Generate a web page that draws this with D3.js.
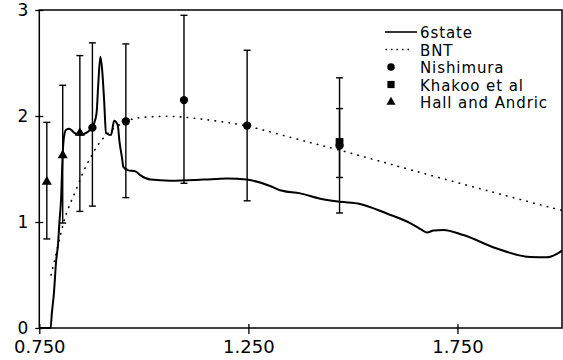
<!DOCTYPE html>
<html>
<head>
<meta charset="utf-8">
<script src="https://cdn.jsdelivr.net/npm/d3@7"></script>
<style>
  body { margin: 0; background: #fff; }
  svg { display: block; }
  text { font-family: "DejaVu Sans", sans-serif; fill: #000; }
</style>
</head>
<body>
<script>
// canvas
var width = 563, height = 360;
var margin = {top: 10, right: 1, bottom: 32, left: 39.3};

// 6state curve (energy, value)
var sixX = [0.750, 0.777, 0.780, 0.785, 0.790, 0.795, 0.798, 0.802, 0.806, 0.809, 0.814, 0.822,
            0.834, 0.846, 0.862, 0.874, 0.880, 0.887, 0.891, 0.896, 0.900, 0.905, 0.9096, 0.9215,
            0.929, 0.9376, 0.9414, 0.948, 0.951, 0.9615, 0.981, 0.992, 1.016, 1.063, 1.142, 1.198,
            1.246, 1.302, 1.326, 1.374, 1.422, 1.469, 1.517, 1.581, 1.637, 1.665, 1.677, 1.693,
            1.716, 1.764, 1.844, 1.924, 1.964, 1.988, 2.000];
var sixY = [0.00, 0.00, 0.14, 0.33, 0.62, 0.80, 0.99, 1.21, 1.65, 1.80, 1.87, 1.88,
            1.84, 1.82, 1.84, 1.88, 1.92, 2.03, 2.30, 2.56, 2.45, 2.15, 1.84, 1.82,
            1.955, 1.915, 1.77, 1.60, 1.52, 1.49, 1.475, 1.44, 1.40, 1.39, 1.40, 1.41,
            1.40, 1.34, 1.30, 1.27, 1.22, 1.19, 1.17, 1.08, 0.99, 0.925, 0.90, 0.92,
            0.925, 0.877, 0.75, 0.67, 0.667, 0.70, 0.73];

// BNT curve
var bntX = [0.778, 0.786, 0.802, 0.810, 0.822, 0.838, 0.854, 0.871, 0.887, 0.898, 0.914, 0.933,
            0.957, 0.983, 1.063, 1.094, 1.142, 1.198, 1.246, 1.302, 1.406, 1.469, 1.693, 1.988, 2.000];
var bntY = [0.50, 0.63, 0.90, 1.03, 1.16, 1.30, 1.47, 1.60, 1.71, 1.77, 1.84, 1.90,
            1.95, 1.99, 2.00, 1.99, 1.97, 1.94, 1.91, 1.85, 1.74, 1.68, 1.43, 1.12, 1.11];

// Nishimura
var nishX = [0.877, 0.957, 1.096, 1.247, 1.468];
var nishY = [1.89, 1.95, 2.15, 1.91, 1.72];
var nishLo = [1.15, 1.23, 1.365, 1.20, 1.085];
var nishHi = [2.69, 2.68, 2.95, 2.62, 2.36];

// Khakoo et al
var khaX = [1.468];
var khaY = [1.755];
var khaLo = [1.42];
var khaHi = [2.07];

// Hall and Andric
var hallX = [0.768, 0.806, 0.847];
var hallY = [1.38, 1.63, 1.84];
var hallLo = [0.84, 0.99, 1.10];
var hallHi = [1.94, 2.29, 2.57];

var xTicks = [0.75, 1.25, 1.75];
var yTicks = [0, 1, 2, 3];

var legendLabels = ["6state", "BNT", "Nishimura", "Khakoo et al", "Hall and Andric"];

var svg = d3.select("body").append("svg")
    .attr("width", width)
    .attr("height", height);

var x = d3.scaleLinear().domain([0.75, 2.0]).range([margin.left, width - margin.right]);
var y = d3.scaleLinear().domain([0, 3]).range([height - margin.bottom, margin.top]);

// frame
svg.append("rect")
    .attr("x", x(0.75))
    .attr("y", y(3))
    .attr("width", x(2.0) - x(0.75))
    .attr("height", y(0) - y(3))
    .attr("fill", "none")
    .attr("stroke", "#000")
    .attr("stroke-width", 1.5);

// axes
var xAxis = svg.append("g")
    .attr("transform", "translate(0," + y(0) + ")")
    .call(d3.axisBottom(x).tickValues(xTicks).tickFormat(d3.format(".3f")).tickSize(6).tickSizeOuter(0).tickPadding(5));
xAxis.select(".domain").remove();
xAxis.selectAll(".tick line").attr("y1", -4).attr("stroke-width", 1.3);
xAxis.selectAll(".tick text").attr("font-size", 18).attr("font-family", "DejaVu Sans").attr("dy", "0.8em");

var yAxis = svg.append("g")
    .attr("transform", "translate(" + x(0.75) + ",0)")
    .call(d3.axisLeft(y).tickValues(yTicks).tickFormat(d3.format("d")).tickSize(4).tickSizeOuter(0).tickPadding(7));
yAxis.select(".domain").remove();
yAxis.selectAll(".tick line").attr("x2", -4).attr("x1", 4).attr("stroke-width", 1.3);
yAxis.selectAll(".tick text").attr("font-size", 17).attr("font-family", "DejaVu Sans");

var plot = svg.append("g");

// curves
var line = d3.line()
    .x(function(d) { return x(d[0]); })
    .y(function(d) { return y(d[1]); });

plot.append("path")
    .datum(bntX.map(function(v, i) { return [v, bntY[i]]; }))
    .attr("fill", "none")
    .attr("stroke", "#000")
    .attr("stroke-width", 1.6)
    .attr("stroke-linecap", "round")
    .attr("stroke-dasharray", "0.5,6.5")
    .attr("d", line.curve(d3.curveBasis));

plot.append("path")
    .datum(sixX.map(function(v, i) { return [v, sixY[i]]; }))
    .attr("fill", "none")
    .attr("stroke", "#000")
    .attr("stroke-width", 2)
    .attr("stroke-linejoin", "round")
    .attr("d", line.curve(d3.curveMonotoneX));

// error bars + markers
function errorSet(xs, ys, lo, hi, symType, size) {
  var g = plot.append("g");
  xs.forEach(function(v, i) {
    var cx = x(v);
    g.append("line")
        .attr("x1", cx).attr("x2", cx)
        .attr("y1", y(lo[i])).attr("y2", y(hi[i]))
        .attr("stroke", "#000").attr("stroke-width", 1.4);
    [lo[i], hi[i]].forEach(function(e) {
      g.append("line")
          .attr("x1", cx - 3.5).attr("x2", cx + 3.5)
          .attr("y1", y(e)).attr("y2", y(e))
          .attr("stroke", "#000").attr("stroke-width", 1.4);
    });
    g.append("path")
        .attr("transform", "translate(" + cx + "," + y(ys[i]) + ")")
        .attr("d", d3.symbol().type(symType).size(size)())
        .attr("fill", "#000");
  });
}

errorSet(nishX, nishY, nishLo, nishHi, d3.symbolCircle, 54);
errorSet(khaX, khaY, khaLo, khaHi, d3.symbolSquare, 60);
errorSet(hallX, hallY, hallLo, hallHi, d3.symbolTriangle, 44);

// legend
var legend = svg.append("g").attr("transform", "translate(385,32)");
var rowH = 17.5;

legend.append("line")
    .attr("x1", 0).attr("x2", 32).attr("y1", 0).attr("y2", 0)
    .attr("stroke", "#000").attr("stroke-width", 1.6);
legend.append("line")
    .attr("x1", 1).attr("x2", 28).attr("y1", rowH).attr("y2", rowH)
    .attr("stroke", "#000").attr("stroke-width", 1.4)
    .attr("stroke-linecap", "round")
    .attr("stroke-dasharray", "0.5,5");

var legSyms = [d3.symbolCircle, d3.symbolSquare, d3.symbolTriangle];
var legSizes = [44, 52, 36];
legSyms.forEach(function(s, i) {
  legend.append("path")
      .attr("transform", "translate(6," + (rowH * (i + 2)) + ")")
      .attr("d", d3.symbol().type(s).size(legSizes[i])())
      .attr("fill", "#000");
});

legend.selectAll("text.lab")
    .data(legendLabels)
    .enter().append("text")
    .attr("class", "lab")
    .attr("x", 35)
    .attr("y", function(d, i) { return rowH * i + 6; })
    .attr("font-size", 15)
    .attr("letter-spacing", 0.9)
    .text(function(d) { return d; });
</script>
</body>
</html>
